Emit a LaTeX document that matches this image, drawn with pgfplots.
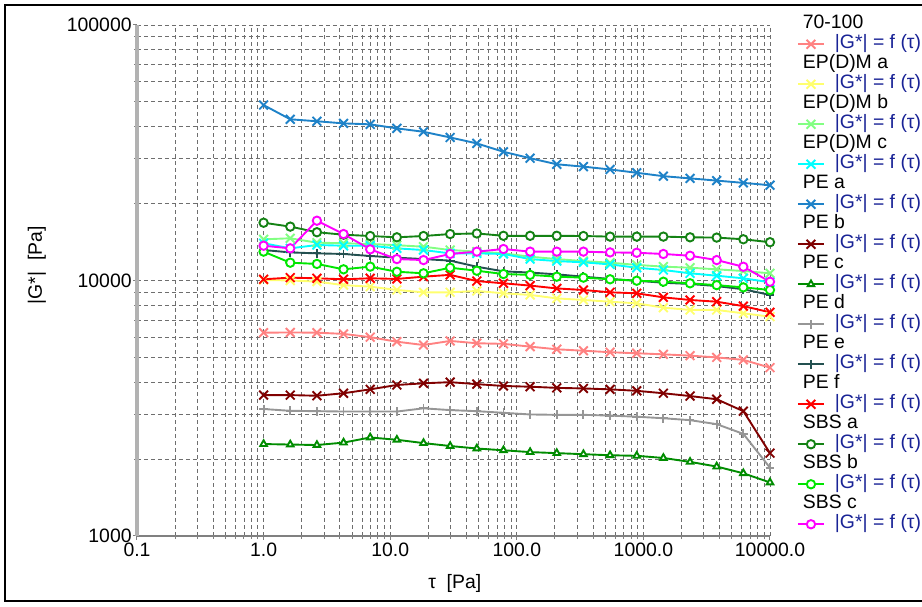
\documentclass[border=0pt]{standalone}
\usepackage{fontspec}
\setmainfont{Liberation Sans}
\usepackage{pgfplots}
\usepackage{pgfplotstable}
\pgfplotsset{compat=1.18}

\definecolor{c70}{RGB}{255,130,130}
\definecolor{cEPa}{RGB}{255,255,110}
\definecolor{cEPb}{RGB}{130,255,130}
\definecolor{cEPc}{RGB}{0,255,255}
\definecolor{cPEa}{RGB}{30,130,200}
\definecolor{cPEb}{RGB}{128,0,0}
\definecolor{cPEc}{RGB}{0,140,0}
\definecolor{cPEd}{RGB}{150,150,150}
\definecolor{cPEe}{RGB}{35,80,80}
\definecolor{cPEf}{RGB}{255,0,0}
\definecolor{cSBSa}{RGB}{20,130,20}
\definecolor{cSBSb}{RGB}{0,230,0}
\definecolor{cSBSc}{RGB}{255,0,255}
\definecolor{legblue}{RGB}{25,35,150}
\definecolor{gridc}{RGB}{110,110,110}

\newcommand\lf{\fontsize{9.7}{11.6}\selectfont}
\newcommand\gf{\textcolor{legblue}{|G*| = f (τ)}}
\newcommand\grp[1]{\hspace{-16pt}#1}

% |G*| vs tau, 20 points per series
\pgfplotstableread{
tau s70 EPa EPb EPc PEa PEb PEc PEd PEe PEf SBSa SBSb SBSc
1 6250 10050 14490 13990 48600 3560 2290 3140 13160 10110 16830 12970 13680
1.624 6260 10000 14630 13360 42750 3560 2280 3090 12880 10260 16250 11740 13360
2.637 6250 9900 14060 13770 42000 3540 2270 3080 12770 10200 15450 11610 17140
4.281 6180 9590 13990 13680 41200 3620 2320 3070 12700 10110 15110 11060 15200
6.952 6000 9460 13900 13680 40850 3750 2430 3070 12470 10200 14930 11330 13240
11.29 5760 9180 13740 13360 39400 3900 2380 3070 12280 10140 14760 10820 12130
18.33 5590 8990 13560 13160 38200 3960 2310 3160 12130 10350 14930 10670 12020
29.76 5800 8990 13160 12770 36300 4000 2250 3110 11960 10520 15200 11220 12700
48.33 5680 9100 12970 12770 34400 3930 2200 3080 11320 9950 15280 10920 12970
78.48 5650 8910 12770 12700 31900 3865 2165 3035 10860 9750 14960 10600 13280
127.4 5510 8780 12390 12130 30100 3840 2130 2990 10740 9550 14960 10520 12970
206.9 5380 8510 12130 11910 28500 3800 2110 2980 10570 9310 14960 10350 12970
336.0 5310 8390 11910 11780 27900 3780 2090 2980 10350 9180 14930 10260 12970
545.6 5240 8260 11740 11560 27200 3750 2070 2960 10140 8990 14850 10110 12880
885.9 5190 8140 11510 11220 26400 3700 2060 2930 9980 8910 14850 9980 12840
1438 5140 7830 11330 10990 25600 3620 2020 2890 9800 8590 14850 9890 12700
2336 5080 7670 11220 10670 25100 3530 1950 2840 9690 8390 14760 9750 12500
3793 5000 7670 11060 10440 24600 3430 1870 2740 9510 8260 14720 9590 12020
6158 4890 7440 10890 10200 24100 3080 1760 2510 9240 7940 14500 9400 11320
10000 4560 7220 10670 9840 23600 2110 1620 1850 8780 7510 14120 9180 9890
}\data

\begin{document}
\begin{tikzpicture}
\begin{axis}[
  name=ax, at={(0,0)}, anchor=south west,
  scale only axis, width=316.5pt, height=255.5pt,
  xmode=log, ymode=log,
  xmin=0.1, xmax=10000, ymin=1000, ymax=100000,
  axis x line=bottom, axis y line=left,
  x axis line style={-, draw=gray, line width=0.6pt},
  y axis line style={-, draw=gray!60, line width=1.6pt},
  xtick={0.1,1,10,100,1000,10000},
  xticklabels={0.1,1.0,10.0,100.0,1000.0,10000.0},
  ytick={1000,10000,100000},
  yticklabels={1000,10000,100000},
  minor xtick={0.2,0.3,0.4,0.5,0.6,0.7,0.8,0.9,2,3,4,5,6,7,8,9,20,30,40,50,60,70,80,90,200,300,400,500,600,700,800,900,2000,3000,4000,5000,6000,7000,8000,9000},
  minor ytick={2000,3000,4000,5000,6000,7000,8000,9000,20000,30000,40000,50000,60000,70000,80000,90000},
  grid=both,
  major grid style={dash pattern=on 2pt off 1.5pt, draw=gridc, line width=0.45pt},
  minor grid style={dash pattern=on 2pt off 1.5pt, draw=gridc, line width=0.45pt},
  tick style={draw=gray, line width=0.5pt},
  tick align=outside,
  major tick length=2pt, minor tick length=1.5pt,
  tick label style={font=\lf},
  yticklabel style={inner sep=0.5pt},
  xticklabel style={inner sep=1.5pt},
  label style={font=\lf},
  xlabel={τ\ \ [Pa]},
  ylabel={|G*|\ \ [Pa]},
  xlabel style={at={(axis description cs:0.502,-0.092)}, anchor=center},
  ylabel style={at={(axis description cs:-0.158,0.530)}, anchor=center},
  every axis plot/.append style={line width=0.95pt, mark options={solid}},
  legend cell align=left,
  legend image code/.code={\draw[mark repeat=2,mark phase=2,#1] plot coordinates {(0pt,0pt) (6.5pt,0pt) (13pt,0pt)};},
  legend style={draw=none, fill=none, inner sep=0pt, outer sep=0pt,
    row sep=0pt, column sep=5pt, font=\lf,
    nodes={inner sep=0pt, text height=7.2pt, text depth=2.8pt},
    at={(axis description cs:1.0427,1.021)}, anchor=north west},
]
\addlegendimage{empty legend}\addlegendentry{\grp{70-100}}
\addplot[c70, mark=x, mark size=3.1pt] table[x=tau,y=s70]{\data};
\addlegendentry{\gf}
\addlegendimage{empty legend}\addlegendentry{\grp{EP(D)M a}}
\addplot[cEPa, mark=x, mark size=3.1pt] table[x=tau,y=EPa]{\data};
\addlegendentry{\gf}
\addlegendimage{empty legend}\addlegendentry{\grp{EP(D)M b}}
\addplot[cEPb, mark=x, mark size=3.1pt] table[x=tau,y=EPb]{\data};
\addlegendentry{\gf}
\addlegendimage{empty legend}\addlegendentry{\grp{EP(D)M c}}
\addplot[cEPc, mark=x, mark size=3.1pt] table[x=tau,y=EPc]{\data};
\addlegendentry{\gf}
\addlegendimage{empty legend}\addlegendentry{\grp{PE a}}
\addplot[cPEa, mark=x, mark size=3.1pt] table[x=tau,y=PEa]{\data};
\addlegendentry{\gf}
\addlegendimage{empty legend}\addlegendentry{\grp{PE b}}
\addplot[cPEb, mark=x, mark size=3.1pt] table[x=tau,y=PEb]{\data};
\addlegendentry{\gf}
\addlegendimage{empty legend}\addlegendentry{\grp{PE c}}
\addplot[cPEc, mark=triangle*, mark size=1.9pt, mark options={fill=white}] table[x=tau,y=PEc]{\data};
\addlegendentry{\gf}
\addlegendimage{empty legend}\addlegendentry{\grp{PE d}}
\addplot[cPEd, mark=+, mark size=2.2pt] table[x=tau,y=PEd]{\data};
\addlegendentry{\gf}
\addlegendimage{empty legend}\addlegendentry{\grp{PE e}}
\addplot[cPEe, mark=+, mark size=2.2pt] table[x=tau,y=PEe]{\data};
\addlegendentry{\gf}
\addlegendimage{empty legend}\addlegendentry{\grp{PE f}}
\addplot[cPEf, mark=x, mark size=3.1pt] table[x=tau,y=PEf]{\data};
\addlegendentry{\gf}
\addlegendimage{empty legend}\addlegendentry{\grp{SBS a}}
\addplot[cSBSa, mark=*, mark size=2.1pt, mark options={fill=white}] table[x=tau,y=SBSa]{\data};
\addlegendentry{\gf}
\addlegendimage{empty legend}\addlegendentry{\grp{SBS b}}
\addplot[cSBSb, mark=*, mark size=2.1pt, mark options={fill=white}] table[x=tau,y=SBSb]{\data};
\addlegendentry{\gf}
\addlegendimage{empty legend}\addlegendentry{\grp{SBS c}}
\addplot[cSBSc, mark=*, mark size=2.1pt, mark options={fill=white}] table[x=tau,y=SBSc]{\data};
\addlegendentry{\gf}
\end{axis}
\pgfresetboundingbox
\path[use as bounding box, shift={(ax.south west)}] (-68.5pt,-35pt) rectangle (392.5pt,268pt);
\draw[shift={(ax.south west)}, line width=1.2pt] (-66pt,265.5pt) rectangle (400pt,-32.5pt);
\end{tikzpicture}
\end{document}
